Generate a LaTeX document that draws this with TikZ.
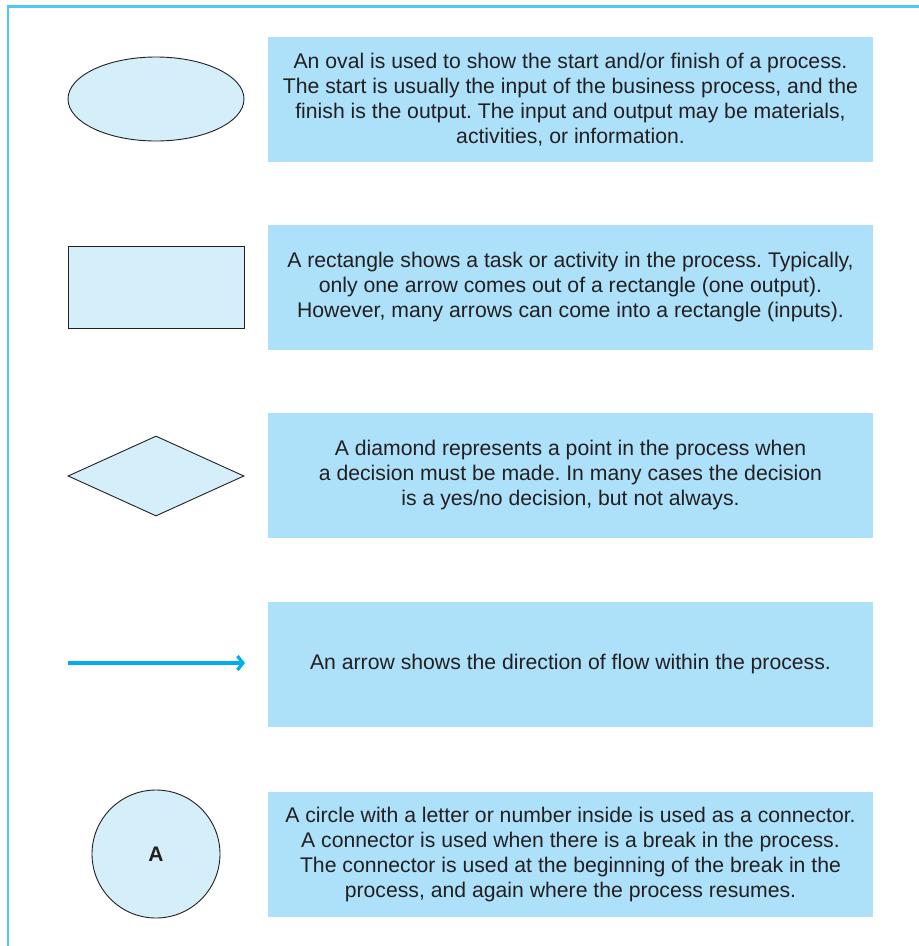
\documentclass[tikz,border=0pt]{standalone}
\usepackage{fontspec}
\setmainfont{Liberation Sans}
\usetikzlibrary{shapes.geometric,arrows.meta}
\definecolor{framecol}{HTML}{4FC8F4}
\definecolor{boxcol}{HTML}{ADE1FA}
\definecolor{shapecol}{HTML}{D4EEFA}
\definecolor{flowcol}{HTML}{00AEEF}
\definecolor{inkcol}{HTML}{231F20}
\frenchspacing
\tikzset{
  explain/.style={fill=boxcol, text=inkcol, minimum width=605pt, minimum height=125pt,
    inner sep=0pt, align=center, font=\fontsize{21.2}{25}\selectfont},
  symbol/.style={draw=inkcol, line width=0.9pt, fill=shapecol, inner sep=0pt},
  flow/.style={draw=flowcol, line width=3.8pt, -{Straight Barb[length=5.5pt,width=14pt,line width=3.2pt]}},
  frame/.style={draw=framecol, line width=2.5pt}
}
\begin{document}
\begin{tikzpicture}[x=1pt,y=-1pt]
\useasboundingbox (0,0) rectangle (919,946);
% page frame: top and left rules
\draw[frame] (8,946) -- (8,6.5) -- (919,6.5);

% symbols
\node[symbol, ellipse, minimum width=176pt, minimum height=84pt] (oval) at (156,99) {};
\node[symbol, rectangle, minimum width=176pt, minimum height=82pt] (rect) at (156,287) {};
\node[symbol, diamond, minimum width=176pt, minimum height=80pt] (dia) at (156,476) {};
\coordinate (arrS) at (68,663);
\coordinate (arrE) at (245,663);
\draw[flow] (arrS) -- (arrE);
\node[symbol, circle, minimum size=128pt, font=\fontsize{21}{24}\selectfont\bfseries, text=inkcol] (conn) at (156,854) {A};

% explanations
\node[explain] (t1) at (570.5,99.5) {An oval is used to show the start and/or finish of a process.\\
The start is usually the input of the business process, and the\\
finish is the output. The input and output may be materials,\\
activities, or information.};
\node[explain] (t2) at (570.5,287.5) {A rectangle shows a task or activity in the process. Typically,\\
only one arrow comes out of a rectangle (one output).\\
However, many arrows can come into a rectangle (inputs).};
\node[explain] (t3) at (570.5,475.5) {A diamond represents a point in the process when\\
a decision must be made. In many cases the decision\\
is a yes/no decision, but not always.};
\node[explain] (t4) at (570.5,664.5) {An arrow shows the direction of flow within the process.};
\node[explain] (t5) at (570.5,854.5) {A circle with a letter or number inside is used as a connector.\\
A connector is used when there is a break in the process.\\
The connector is used at the beginning of the break in the\\
process, and again where the process resumes.};
\end{tikzpicture}
\end{document}
